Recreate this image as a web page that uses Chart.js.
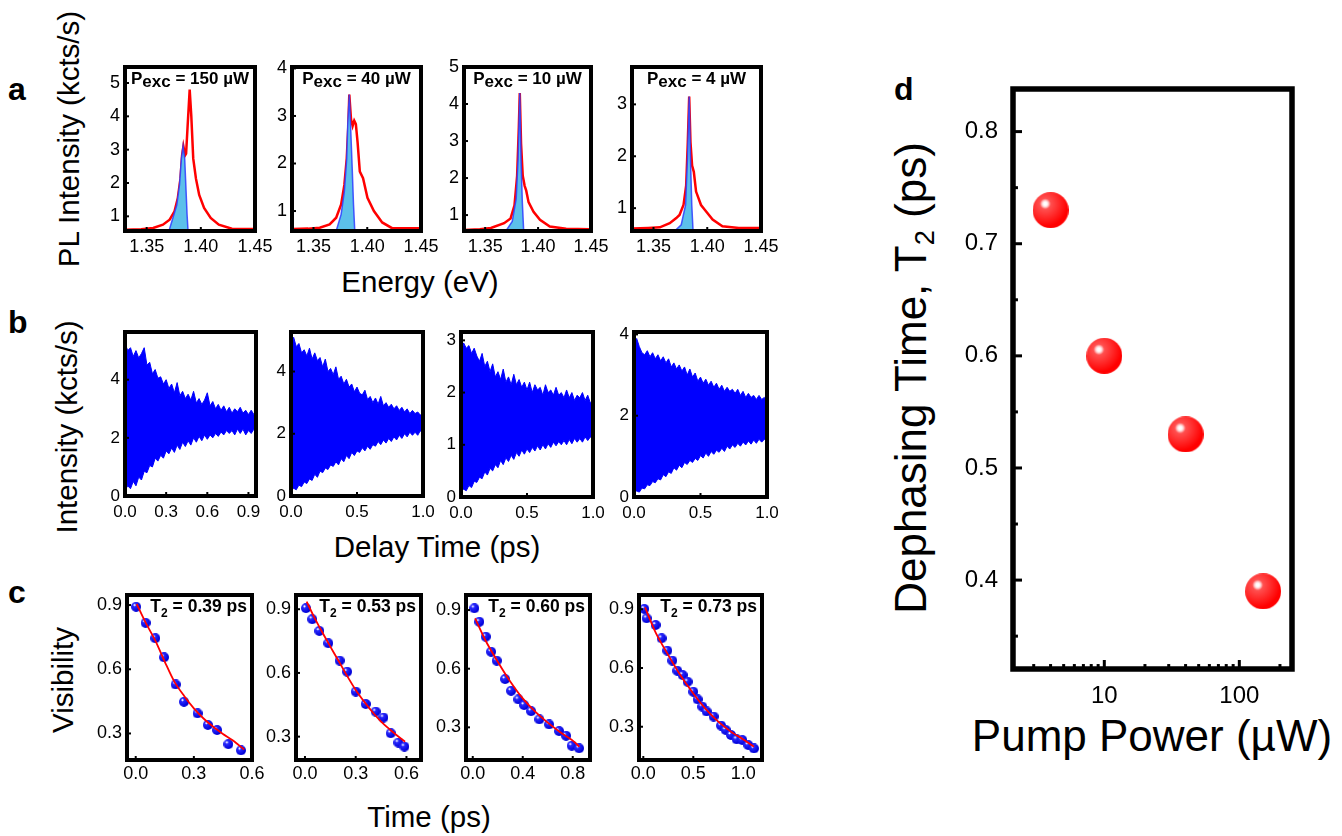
<!DOCTYPE html>
<html>
<head>
<meta charset="utf-8">
<script src="https://cdn.jsdelivr.net/npm/chart.js@4.4.1/dist/chart.umd.min.js"></script>
<style>
  body { margin: 0; background: #fff; width: 1342px; height: 836px; position: relative; overflow: hidden;
         font-family: 'Liberation Sans', Arial, Helvetica, sans-serif; }
  canvas { position: absolute; }
  .t { position: absolute; white-space: nowrap; line-height: 1; color: #000; }
  .rot { transform: translate(-50%, -50%) rotate(-90deg); }
  .hc { transform: translateX(-50%); }
  .letter { font-weight: bold; font-size: 32px; }
  .ttl { font-size: 29.5px; }
  .big { font-size: 44px; }
  .sub { font-size: 0.62em; vertical-align: -0.28em; line-height: 0; }
</style>
</head>
<body>
<div class="t letter" style="left:8px;top:73px">a</div>
<div class="t letter" style="left:8px;top:306px">b</div>
<div class="t letter" style="left:8px;top:576px">c</div>
<div class="t letter" style="left:894px;top:73px">d</div>

<div class="t ttl rot" style="left:69px;top:139px">PL Intensity (kcts/s)</div>
<div class="t ttl hc" style="left:420px;top:267px">Energy (eV)</div>
<div class="t ttl rot" style="left:67px;top:427px">Intensity (kcts/s)</div>
<div class="t ttl hc" style="left:437px;top:532px">Delay Time (ps)</div>
<div class="t ttl rot" style="left:63px;top:680px">Visibility</div>
<div class="t ttl hc" style="left:429px;top:802px">Time (ps)</div>
<div class="t big rot" style="left:911px;top:378px">Dephasing Time, T<span class="sub">2</span> (ps)</div>
<div class="t big hc" style="left:1152px;top:714px">Pump Power (µW)</div>

<script>
// ---------- data ----------

// panel a: PL spectra, [energy (eV), intensity (kcts/s)]
const plTicksE = [1.35, 1.40, 1.45];
const pl150Meas = [[1.3303,0.60],[1.345,0.61],[1.356,0.65],[1.365,0.75],[1.3712,0.90],[1.3757,1.15],[1.3787,1.54],[1.3812,2.13],[1.3827,2.83],[1.3839,3.10],[1.3855,2.83],[1.3864,2.88],[1.3878,3.71],[1.3897,4.80],[1.3912,4.01],[1.393,2.73],[1.3955,2.13],[1.3985,1.64],[1.403,1.25],[1.4091,0.95],[1.4166,0.75],[1.4287,0.63],[1.4485,0.62]];
const pl150Fit = [[1.3705,0.555],[1.3742,0.95],[1.3778,1.34],[1.3803,1.94],[1.3821,2.73],[1.3836,3.10],[1.3851,2.73],[1.3864,1.74],[1.3873,1.05],[1.3882,0.555]];
const pl40Meas = [[1.3303,0.62],[1.345,0.63],[1.3558,0.65],[1.365,0.72],[1.3711,0.86],[1.3757,1.14],[1.3787,1.55],[1.3809,2.10],[1.3824,2.79],[1.3833,3.45],[1.3849,2.93],[1.3864,2.79],[1.3879,2.90],[1.3894,2.83],[1.391,2.45],[1.3931,1.83],[1.3961,1.69],[1.4002,1.28],[1.4062,1.00],[1.4139,0.76],[1.4231,0.64],[1.4485,0.64]];
const pl40Fit = [[1.3711,0.58],[1.3757,0.93],[1.3787,1.41],[1.3809,2.10],[1.3818,2.79],[1.3833,3.45],[1.3845,2.79],[1.386,1.90],[1.3872,1.14],[1.3884,0.58]];
const pl10Meas = [[1.3303,0.60],[1.345,0.62],[1.3554,0.65],[1.3679,0.78],[1.374,0.91],[1.3777,1.26],[1.3802,2.06],[1.3818,3.37],[1.3827,4.30],[1.3839,2.94],[1.3855,2.06],[1.3873,1.79],[1.3888,1.66],[1.391,1.35],[1.3957,1.09],[1.4018,0.87],[1.4111,0.69],[1.4265,0.63],[1.4485,0.62]];
const pl10Fit = [[1.3693,0.56],[1.3756,0.83],[1.3793,1.44],[1.3811,2.50],[1.3827,4.30],[1.3839,2.50],[1.3851,1.35],[1.3864,0.56]];
const pl4Meas = [[1.3303,0.61],[1.345,0.62],[1.3559,0.63],[1.3651,0.71],[1.3712,0.81],[1.3742,0.87],[1.3779,1.06],[1.3804,1.44],[1.3819,2.27],[1.3832,3.15],[1.3844,2.27],[1.3859,1.82],[1.3875,1.70],[1.3896,1.32],[1.3942,1.06],[1.3988,0.94],[1.405,0.78],[1.4141,0.65],[1.4294,0.62],[1.4485,0.62]];
const pl4Fit = [[1.3697,0.56],[1.3758,0.68],[1.3798,1.06],[1.3816,1.95],[1.3832,3.15],[1.3844,1.95],[1.3856,1.06],[1.3868,0.56]];
const plPowers = ['150', '40', '10', '4'];
const plYTicks = [[1,2,3,4,5],[1,2,3,4],[1,2,3,4,5],[1,2,3]];

// panel b: interferogram envelopes (delay in ps, kcts/s)
const delay150 = [0,0.02,0.04,0.06,0.08,0.1,0.12,0.14,0.16,0.18,0.2,0.22,0.24,0.26,0.28,0.3,0.32,0.34,0.36,0.38,0.4,0.42,0.44,0.46,0.48,0.5,0.52,0.54,0.56,0.58,0.6,0.62,0.64,0.66,0.68,0.7,0.72,0.74,0.76,0.78,0.8,0.82,0.84,0.86,0.88,0.9,0.92,0.94,0.955];
const upper150 = [5.25,5.0,5.1,4.8,5.0,4.75,4.9,5.1,4.5,4.6,4.2,4.35,4.05,4.1,3.85,4.0,3.7,3.85,3.55,3.9,3.45,3.6,3.35,3.5,3.3,3.6,3.2,3.35,3.15,3.3,3.55,3.1,3.25,3.0,3.15,2.95,3.1,2.9,3.05,2.85,3.0,2.9,3.05,2.85,2.95,2.8,2.95,2.8,2.85];
const lower150 = [0.2,0.35,0.25,0.5,0.35,0.65,0.55,0.85,0.8,1.05,1.0,1.3,1.2,1.4,1.3,1.55,1.45,1.65,1.5,1.75,1.6,1.85,1.7,1.9,1.75,2.0,1.85,2.05,1.9,2.1,1.95,2.1,2.0,2.15,2.05,2.2,2.1,2.25,2.15,2.25,2.1,2.3,2.15,2.3,2.1,2.25,2.15,2.3,2.2];
const delayGrid = [0,0.02,0.04,0.06,0.08,0.1,0.12,0.14,0.16,0.18,0.2,0.22,0.24,0.26,0.28,0.3,0.32,0.34,0.36,0.38,0.4,0.42,0.44,0.46,0.48,0.5,0.52,0.54,0.56,0.58,0.6,0.62,0.64,0.66,0.68,0.7,0.72,0.74,0.76,0.78,0.8,0.82,0.84,0.86,0.88,0.9,0.92,0.94,0.96,0.98,1.0];
const upper40 = [4.6,5.1,4.8,4.9,4.6,4.7,4.5,4.75,4.4,4.6,4.35,4.45,4.15,4.4,4.0,4.1,3.9,4.15,3.75,3.85,3.6,3.75,3.5,3.6,3.35,3.5,3.3,3.25,3.4,3.1,3.2,3.0,3.15,2.95,3.2,2.9,3.0,2.85,2.95,2.8,2.9,2.75,2.85,2.7,2.8,2.65,2.75,2.65,2.7,2.6,2.65];
const lower40 = [0.15,0.25,0.2,0.35,0.3,0.45,0.4,0.55,0.5,0.7,0.6,0.8,0.75,0.9,0.85,1.0,0.95,1.1,1.0,1.2,1.1,1.3,1.2,1.4,1.3,1.45,1.4,1.55,1.45,1.6,1.5,1.65,1.6,1.75,1.65,1.8,1.7,1.85,1.75,1.9,1.8,1.95,1.85,2.0,1.9,2.05,1.95,2.05,1.95,2.1,2.0];
const upper10 = [2.7,2.95,2.85,2.9,2.75,2.85,2.7,2.6,2.75,2.5,2.6,2.4,2.55,2.3,2.4,2.25,2.45,2.2,2.3,2.15,2.35,2.15,2.25,2.1,2.2,2.05,2.2,2.0,2.15,2.05,2.1,1.95,2.15,2.0,2.05,1.95,2.1,1.95,2.0,1.9,2.05,1.9,2.0,1.85,1.95,1.9,2.0,1.85,1.95,1.8,1.85];
const lower10 = [0.1,0.15,0.12,0.22,0.18,0.3,0.28,0.38,0.35,0.48,0.42,0.55,0.5,0.62,0.56,0.7,0.62,0.75,0.68,0.8,0.72,0.85,0.78,0.9,0.82,0.92,0.85,0.95,0.88,0.98,0.9,1.0,0.92,1.02,0.95,1.05,0.98,1.06,1.0,1.08,1.0,1.1,1.02,1.12,1.05,1.12,1.05,1.15,1.08,1.15,1.12];
const upper4 = [3.7,3.9,3.7,3.55,3.5,3.6,3.45,3.55,3.4,3.5,3.35,3.45,3.3,3.4,3.2,3.3,3.15,3.25,3.1,3.2,3.0,3.15,2.95,3.05,2.85,2.95,2.8,2.9,2.75,2.85,2.7,2.8,2.65,2.75,2.6,2.7,2.6,2.65,2.55,2.65,2.5,2.6,2.45,2.55,2.45,2.5,2.4,2.5,2.4,2.45,2.35];
const lower4 = [0.1,0.15,0.12,0.22,0.2,0.3,0.28,0.38,0.35,0.45,0.42,0.55,0.5,0.62,0.58,0.72,0.66,0.78,0.72,0.85,0.8,0.9,0.85,0.95,0.9,1.02,0.96,1.08,1.0,1.12,1.05,1.15,1.1,1.2,1.12,1.25,1.18,1.28,1.22,1.32,1.25,1.35,1.28,1.38,1.3,1.4,1.32,1.42,1.35,1.42,1.38];
const ifgXTicks = [[0,0.3,0.6,0.9],[0,0.5,1.0],[0,0.5,1.0],[0,0.5,1.0]];
const ifgYTicks = [[0,2,4],[0,2,4],[0,1,2,3],[0,2,4]];

// panel c: visibility decay, [time (ps), visibility]
const vis039 = [[0.002,0.892],[0.051,0.817],[0.101,0.745],[0.146,0.656],[0.206,0.529],[0.249,0.448],[0.319,0.394],[0.372,0.340],[0.42,0.316],[0.478,0.250],[0.543,0.221]];
const fit039 = [[0.005,0.905],[0.05,0.82],[0.1,0.736],[0.15,0.635],[0.2,0.541],[0.25,0.475],[0.3,0.417],[0.35,0.37],[0.4,0.331],[0.45,0.298],[0.5,0.268],[0.56,0.225]];
const vis053 = [[0.006,0.905],[0.043,0.853],[0.085,0.798],[0.138,0.740],[0.205,0.658],[0.249,0.606],[0.300,0.512],[0.359,0.454],[0.418,0.418],[0.464,0.390],[0.507,0.316],[0.552,0.272],[0.588,0.253]];
const fit053 = [[0.01,0.936],[0.05,0.87],[0.1,0.795],[0.15,0.724],[0.2,0.655],[0.25,0.585],[0.3,0.52],[0.35,0.465],[0.4,0.415],[0.45,0.371],[0.5,0.335],[0.55,0.302],[0.592,0.276]];
const vis060 = [[0.013,0.909],[0.053,0.840],[0.104,0.764],[0.147,0.687],[0.192,0.641],[0.259,0.547],[0.307,0.487],[0.365,0.443],[0.411,0.414],[0.467,0.383],[0.533,0.341],[0.611,0.315],[0.691,0.281],[0.747,0.257],[0.792,0.206],[0.851,0.193]];
const fit060 = [[0.019,0.857],[0.1,0.747],[0.2,0.636],[0.3,0.535],[0.4,0.448],[0.5,0.38],[0.6,0.324],[0.7,0.275],[0.8,0.232],[0.853,0.201]];
const vis073 = [[0.010,0.902],[0.033,0.854],[0.123,0.820],[0.183,0.752],[0.240,0.689],[0.290,0.638],[0.340,0.586],[0.393,0.564],[0.443,0.530],[0.500,0.479],[0.543,0.440],[0.590,0.403],[0.633,0.378],[0.703,0.352],[0.777,0.306],[0.823,0.284],[0.877,0.258],[0.933,0.236],[0.990,0.232],[1.050,0.206],[1.107,0.189]];
const fit073 = [[0.017,0.91],[0.125,0.78],[0.25,0.666],[0.375,0.56],[0.5,0.47],[0.625,0.39],[0.75,0.326],[0.875,0.275],[1.0,0.235],[1.107,0.198]];
const t2Labels = ['0.39', '0.53', '0.60', '0.73'];
const visXTicks = [[0,0.3,0.6],[0,0.3,0.6],[0,0.4,0.8],[0,0.5,1.0]];
const visYTicks = [0.3, 0.6, 0.9];

// panel d: dephasing time vs pump power
const pumpPower = [4, 10, 40, 150];
const dephasingT2 = [0.73, 0.60, 0.53, 0.39];
const pumpTicks = [10, 100];
const pumpMinor = [3,4,5,6,7,8,9,20,30,40,50,60,70,80,90,200];
const t2Ticks = [0.4, 0.5, 0.6, 0.7, 0.8];
const t2Minor = [0.35, 0.45, 0.55, 0.65, 0.75];

// ---------- layout ----------
const FONT = "'Liberation Sans', Arial, Helvetica, sans-serif";
Chart.defaults.font.family = FONT;
Chart.defaults.color = '#000';

const aBoxes = [[125,67,255,231],[292,67,421,231],[464,67,591,231],[632,67,761,231]];
const aYRange = [[0.56,5.48],[0.58,4.03],[0.57,5.0],[0.56,3.72]];
const bBoxes = [[125,332,256,496],[291,332,423,496],[461,332,593,497],[634,332,767,497]];
const bXRange = [[0,0.955],[0,1],[0,1],[0,1]];
const bYRange = [[0,5.64],[0,5.27],[0,3.16],[0,4.06]];
const cBoxes = [[127,595,252,760],[296,595,421,760],[466,595,590,760],[639,595,762,760]];
const cXRange = [[-0.045,0.6],[-0.053,0.686],[-0.054,0.938],[-0.043,1.187]];
const cYRange = [[0.176,0.947],[0.190,0.967],[0.133,0.977],[0.130,0.973]];
const dBox = [1013,89,1292,669];

// text with mixed sizes / baseline offsets, drawn inside a plot
function richText(ctx, parts, x, y, align) {
  let w = 0;
  parts.forEach(p => { ctx.font = 'bold ' + p[1] + 'px ' + FONT; w += ctx.measureText(p[0]).width; });
  let cx = align === 'center' ? x - w / 2 : x - w;
  ctx.fillStyle = '#000';
  ctx.textAlign = 'left';
  ctx.textBaseline = 'alphabetic';
  parts.forEach(p => {
    ctx.font = 'bold ' + p[1] + 'px ' + FONT;
    ctx.fillText(p[0], cx, y + p[2]);
    cx += ctx.measureText(p[0]).width;
  });
}

// frame + inward ticks + inside label
Chart.register({
  id: 'frame',
  afterDraw(chart, args, o) {
    const { ctx, chartArea: a } = chart;
    const sx = chart.scales.x, sy = chart.scales.y;
    ctx.save();
    ctx.strokeStyle = '#000';
    ctx.lineWidth = o.tickWidth;
    const tx = (v, len) => { const p = sx.getPixelForValue(v); ctx.beginPath(); ctx.moveTo(p, a.bottom); ctx.lineTo(p, a.bottom - len); ctx.stroke(); };
    const ty = (v, len) => { const p = sy.getPixelForValue(v); ctx.beginPath(); ctx.moveTo(a.left, p); ctx.lineTo(a.left + len, p); ctx.stroke(); };
    sx.ticks.forEach(t => tx(t.value, o.tick));
    sy.ticks.forEach(t => ty(t.value, o.tick));
    (o.minorX || []).forEach(v => tx(v, o.tick * 0.55));
    (o.minorY || []).forEach(v => ty(v, o.tick * 0.55));
    ctx.lineWidth = o.width;
    ctx.strokeRect(a.left, a.top, a.right - a.left, a.bottom - a.top);
    if (o.label) o.label(ctx, a);
    ctx.restore();
  }
});

function ball(r, c0, c1, c2, c3) {
  const s = Math.ceil(r * 2);
  const cv = document.createElement('canvas');
  cv.width = s; cv.height = s;
  const g = cv.getContext('2d');
  const hx = s / 2 - r * 0.3, hy = s / 2 - r * 0.35;
  const grad = g.createRadialGradient(hx, hy, 0, hx, hy, r * 1.25);
  grad.addColorStop(0, c0);
  grad.addColorStop(0.07, c0);
  grad.addColorStop(0.14, c1);
  grad.addColorStop(0.24, c2);
  grad.addColorStop(1, c3);
  g.fillStyle = grad;
  g.beginPath(); g.arc(s / 2, s / 2, r, 0, Math.PI * 2); g.fill();
  return cv;
}
const blueBall = ball(5, '#ffffff', '#b8b8ff', '#2a2aff', '#0000d8');
const redBall = ball(18, '#ffffff', '#ffd0d0', '#ff5050', '#ff0000');

function makeChart(box, m, spec) {
  const cv = document.createElement('canvas');
  cv.width = box[2] - box[0] + m.yW + m.pr;
  cv.height = box[3] - box[1] + m.pt + m.xH;
  cv.style.left = (box[0] - m.yW) + 'px';
  cv.style.top = (box[1] - m.pt) + 'px';
  document.body.appendChild(cv);
  const axis = (ax, isX) => ({
    type: ax.type || 'linear',
    min: ax.range[0], max: ax.range[1],
    afterBuildTicks: s => { s.ticks = ax.ticks.map(v => ({ value: v })); },
    afterFit: s => { if (isX) s.height = m.xH; else s.width = m.yW; },
    grid: { display: false, drawTicks: false },
    border: { display: false },
    ticks: { font: { size: m.font }, padding: isX ? m.padX : m.padY, autoSkip: false, maxRotation: 0, callback: ax.fmt }
  });
  return new Chart(cv, {
    type: 'line',
    data: { datasets: spec.datasets },
    options: {
      responsive: false,
      animation: false,
      layout: { padding: { left: 0, top: m.pt, right: m.pr, bottom: 0 } },
      plugins: {
        legend: { display: false },
        tooltip: { enabled: false },
        frame: Object.assign({ width: m.frame, tick: m.tick, tickWidth: m.tickW }, spec.frame)
      },
      scales: { x: axis(spec.x, true), y: axis(spec.y, false) }
    }
  });
}

const mA = { yW: 40, xH: 30, pt: 26, pr: 40, font: 18, padX: 5, padY: 5, frame: 4, tick: 4, tickW: 2 };
const mB = { yW: 40, xH: 30, pt: 26, pr: 40, font: 17, padX: 6, padY: 5, frame: 4, tick: 4, tickW: 2 };
const mC = { yW: 40, xH: 30, pt: 26, pr: 40, font: 18, padX: 3, padY: 5, frame: 4, tick: 4, tickW: 2 };
const mD = { yW: 80, xH: 50, pt: 40, pr: 50, font: 24, padX: 13, padY: 15, frame: 5.5, tick: 9, tickW: 3 };

const fmt2 = v => v.toFixed(2);
const fmt1 = v => v.toFixed(1);
const fmt0 = v => String(v);

// panel a
const plMeas = [pl150Meas, pl40Meas, pl10Meas, pl4Meas];
const plFit = [pl150Fit, pl40Fit, pl10Fit, pl4Fit];
aBoxes.forEach((box, i) => {
  makeChart(box, mA, {
    x: { range: [1.33, 1.45], ticks: plTicksE, fmt: fmt2 },
    y: { range: aYRange[i], ticks: plYTicks[i], fmt: fmt0 },
    datasets: [
      { data: plFit[i], borderColor: 'rgba(45,60,255,0.85)', borderWidth: 1.5, backgroundColor: '#5cc0ea', fill: 'start', pointRadius: 0, tension: 0 },
      { data: plMeas[i], borderColor: '#ff0000', borderWidth: 2.5, pointRadius: 0, fill: false, tension: 0 }
    ],
    frame: {
      label: (ctx, a) => richText(ctx, [['P', 17, 0], ['exc', 17, 2.5], [' = ' + plPowers[i] + ' µW', 17, 0]], (a.left + a.right) / 2, a.top + 17, 'center')
    }
  });
});

// panel b
const ifgT = [delay150, delayGrid, delayGrid, delayGrid];
const ifgUp = [upper150, upper40, upper10, upper4];
const ifgLo = [lower150, lower40, lower10, lower4];
bBoxes.forEach((box, i) => {
  makeChart(box, mB, {
    x: { range: bXRange[i], ticks: ifgXTicks[i], fmt: fmt1 },
    y: { range: bYRange[i], ticks: ifgYTicks[i], fmt: fmt0 },
    datasets: [
      { data: ifgT[i].map((t, k) => [t, ifgUp[i][k]]), borderColor: '#0000ff', borderWidth: 1, backgroundColor: '#0000ff', fill: '+1', pointRadius: 0, tension: 0 },
      { data: ifgT[i].map((t, k) => [t, ifgLo[i][k]]), borderColor: '#0000ff', borderWidth: 1, pointRadius: 0, fill: false, tension: 0 }
    ],
    frame: {}
  });
});

// panel c
const visPts = [vis039, vis053, vis060, vis073];
const visFit = [fit039, fit053, fit060, fit073];
cBoxes.forEach((box, i) => {
  makeChart(box, mC, {
    x: { range: cXRange[i], ticks: visXTicks[i], fmt: fmt1 },
    y: { range: cYRange[i], ticks: visYTicks, fmt: fmt1 },
    datasets: [
      { data: visFit[i], borderColor: '#ff0000', borderWidth: 1.8, pointRadius: 0, fill: false, tension: 0.3 },
      { data: visPts[i], showLine: false, pointStyle: blueBall, pointRadius: 5 }
    ],
    frame: {
      label: (ctx, a) => richText(ctx, [['T', 17.5, 0], ['2', 12, 5], [' = ' + t2Labels[i] + ' ps', 17.5, 0]], a.right - 5, a.top + 17, 'right')
    }
  });
});

// panel d
makeChart(dBox, mD, {
  x: { type: 'logarithmic', range: [2.107, 245.6], ticks: pumpTicks, fmt: fmt0 },
  y: { range: [0.3207, 0.838], ticks: t2Ticks, fmt: fmt1 },
  datasets: [
    { data: pumpPower.map((p, k) => [p, dephasingT2[k]]), showLine: false, pointStyle: redBall, pointRadius: 18 }
  ],
  frame: { minorX: pumpMinor, minorY: t2Minor }
});
</script>
</body>
</html>
